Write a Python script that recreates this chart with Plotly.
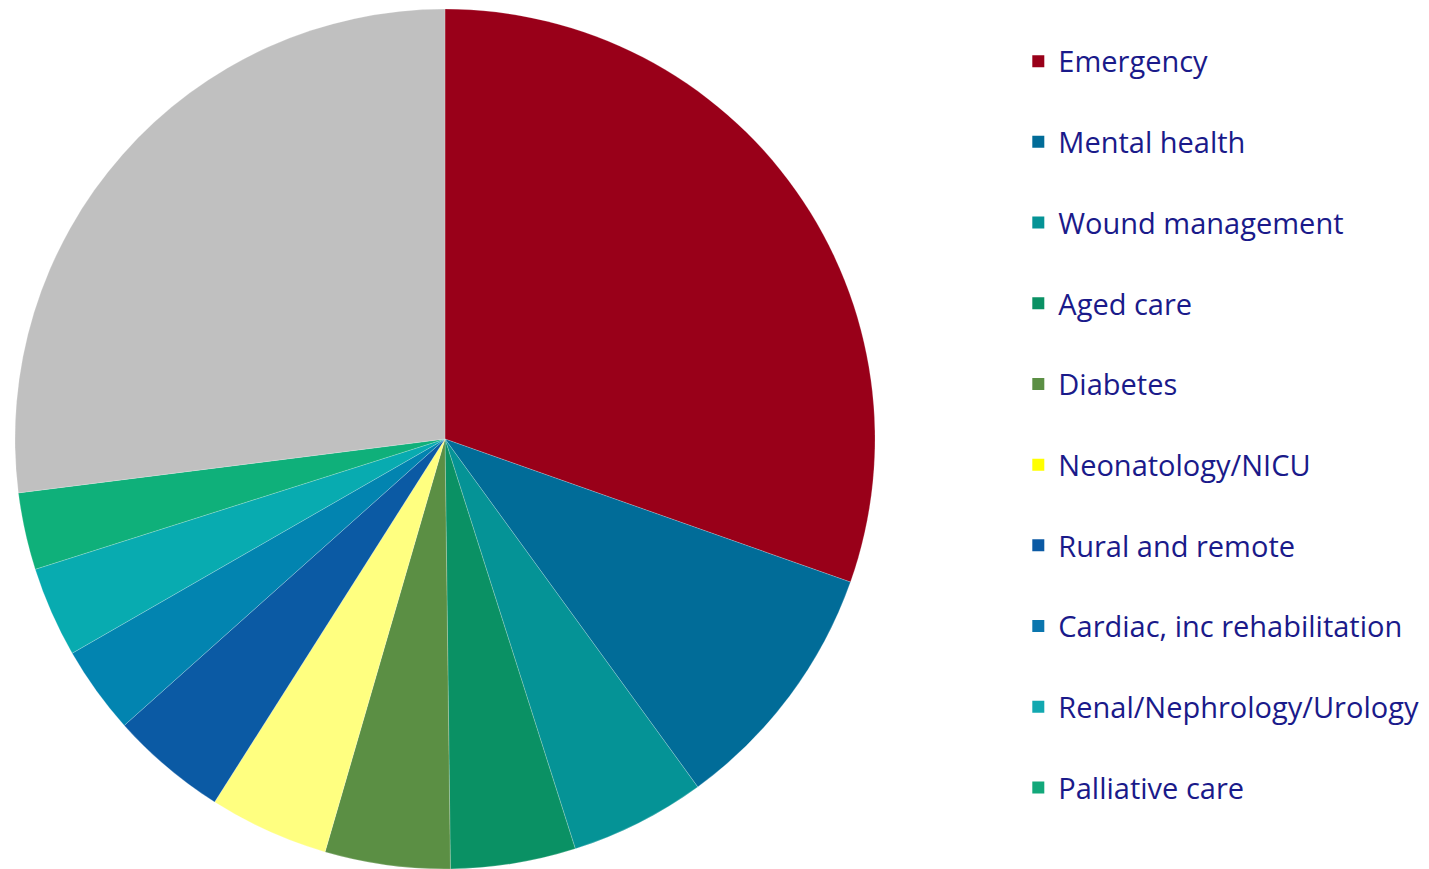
import plotly.graph_objects as go

categories = ["Emergency", "Mental health", "Wound management", "Aged care", "Diabetes",
              "Neonatology/NICU", "Rural and remote", "Cardiac, inc rehabilitation",
              "Renal/Nephrology/Urology", "Palliative care", "Other"]
values = [30.4, 9.6, 5.1, 4.7, 4.7, 4.5, 4.4, 3.3, 3.4, 2.9, 27.0]
slice_colors = ["#990019", "#016C98", "#059396", "#0A9164", "#5B8F44", "#FFFF80",
                "#0B5AA4", "#0284B0", "#08ABB0", "#0FB07A", "#C0C0C0"]
legend_labels = categories[:10]
legend_colors = ["#990019", "#016C98", "#059396", "#0A9164", "#5B8F44", "#FFFF00",
                 "#0B5AA4", "#0B76AE", "#12A8B0", "#12A87A"]

W, H = 1429, 869
fig = go.Figure()
fig.add_trace(go.Pie(
    labels=categories, values=values, sort=False, direction="clockwise", rotation=0,
    marker=dict(colors=slice_colors, line=dict(color="rgba(255,255,255,0.4)", width=0.5)),
    textinfo="none", hoverinfo="label+percent", showlegend=False,
    domain=dict(x=[7 / W, 867 / W], y=[8 / H, 868 / H]),
))
for lab, col in zip(legend_labels, legend_colors):
    fig.add_trace(go.Scatter(
        x=[None], y=[None], mode="markers", name=lab, legendgroup=lab,
        marker=dict(symbol="square", size=12, color=col),
    ))

fig.update_layout(
    width=W, height=H, margin=dict(l=0, r=0, t=0, b=0),
    paper_bgcolor="white", plot_bgcolor="white",
    xaxis=dict(visible=False), yaxis=dict(visible=False),
    legend=dict(x=0.707, y=0.968, xanchor="left", yanchor="top",
                font=dict(family="Open Sans", size=29, color="#1A1A8A"),
                tracegroupgap=40, itemwidth=30, bgcolor="rgba(0,0,0,0)"),
)
fig.write_html("out.html")
